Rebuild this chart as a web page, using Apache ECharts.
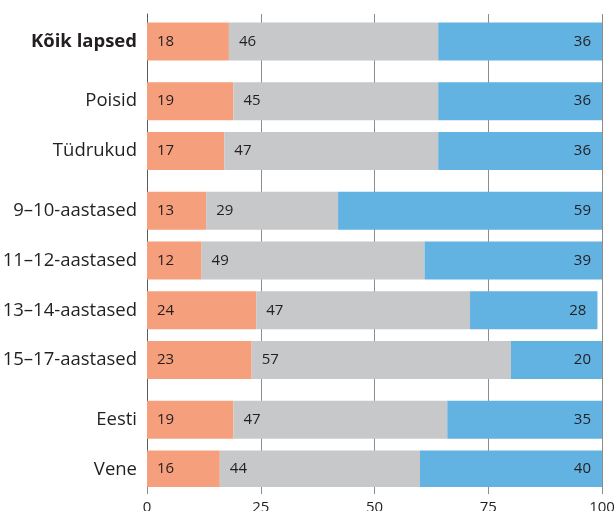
<!DOCTYPE html>
<html>
<head>
<meta charset="utf-8">
<script src="https://cdn.jsdelivr.net/npm/echarts@6/dist/echarts.min.js"></script>
<style>
html,body{margin:0;padding:0;background:#fff;}
#chart{width:616px;height:511px;}
</style>
</head>
<body>
<div id="chart"></div>
<script>
// Data
const categories = ['Kõik lapsed', 'Poisid', 'Tüdrukud', '9–10-aastased', '11–12-aastased', '13–14-aastased', '15–17-aastased', 'Eesti', 'Vene'];
const orangeValues = [18, 19, 17, 13, 12, 24, 23, 19, 16];
const grayValues   = [46, 45, 47, 29, 49, 47, 57, 47, 44];
const blueValues   = [36, 36, 36, 59, 39, 28, 20, 35, 40];
const xTicks = [0, 25, 50, 75, 100];

// Layout: slot positions on a fine category band (gaps between groups)
const SLOT_COUNT = 95;
const slotIndex = [5, 17, 27, 39, 49, 59, 69, 81, 91];

function spread(arr, empty) {
  const out = new Array(SLOT_COUNT).fill(empty);
  slotIndex.forEach((s, i) => { out[s] = arr[i]; });
  return out;
}

const yLabels = spread(categories, '');
const FONT = '"Open Sans", "Noto Sans", sans-serif';
const labelText = { color: '#231F20', fontFamily: FONT, fontSize: 15 };

const chart = echarts.init(document.getElementById('chart'), null, { renderer: 'canvas' });
chart.setOption({
  animation: false,
  backgroundColor: '#ffffff',
  grid: { left: 147, right: 14, top: 14, bottom: 24, containLabel: false, outerBoundsMode: 'none' },
  xAxis: {
    type: 'value', min: xTicks[0], max: xTicks[xTicks.length - 1], interval: 25,
    axisLine: { show: false },
    axisTick: { show: true, length: 7, lineStyle: { color: '#8c8c8c', width: 1 } },
    splitLine: { show: true, lineStyle: { color: '#8c8c8c', width: 1 } },
    axisLabel: { color: '#231F20', fontFamily: FONT, fontSize: 15, margin: 13 }
  },
  yAxis: {
    type: 'category', inverse: true, data: yLabels,
    axisTick: { show: false },
    axisLine: { show: true, lineStyle: { color: '#5a5a5a', width: 1 } },
    axisLabel: {
      interval: 0, margin: 10, color: '#231F20', fontFamily: FONT, fontSize: 18.5,
      formatter: function (v) { return v === categories[0] ? '{b|' + v + '}' : v; },
      rich: { b: { fontWeight: 'bold', fontSize: 18.5, fontFamily: FONT, color: '#231F20' } }
    }
  },
  series: [
    {
      type: 'bar', stack: 't', barWidth: 38, clip: true,
      data: spread(orangeValues, '-'),
      itemStyle: { color: '#F59F7D' },
      label: Object.assign({ show: true, position: 'insideLeft', distance: 10 }, labelText)
    },
    {
      type: 'bar', stack: 't', barWidth: 38, clip: true,
      data: spread(grayValues, '-'),
      itemStyle: { color: '#C7C8CA' },
      label: Object.assign({ show: true, position: 'insideLeft', distance: 10 }, labelText)
    },
    {
      type: 'bar', stack: 't', barWidth: 38, clip: true,
      data: spread(blueValues, '-'),
      itemStyle: { color: '#62B2E2' },
      label: Object.assign({ show: true, position: 'insideRight', distance: 11 }, labelText)
    }
  ]
});
</script>
</body>
</html>
